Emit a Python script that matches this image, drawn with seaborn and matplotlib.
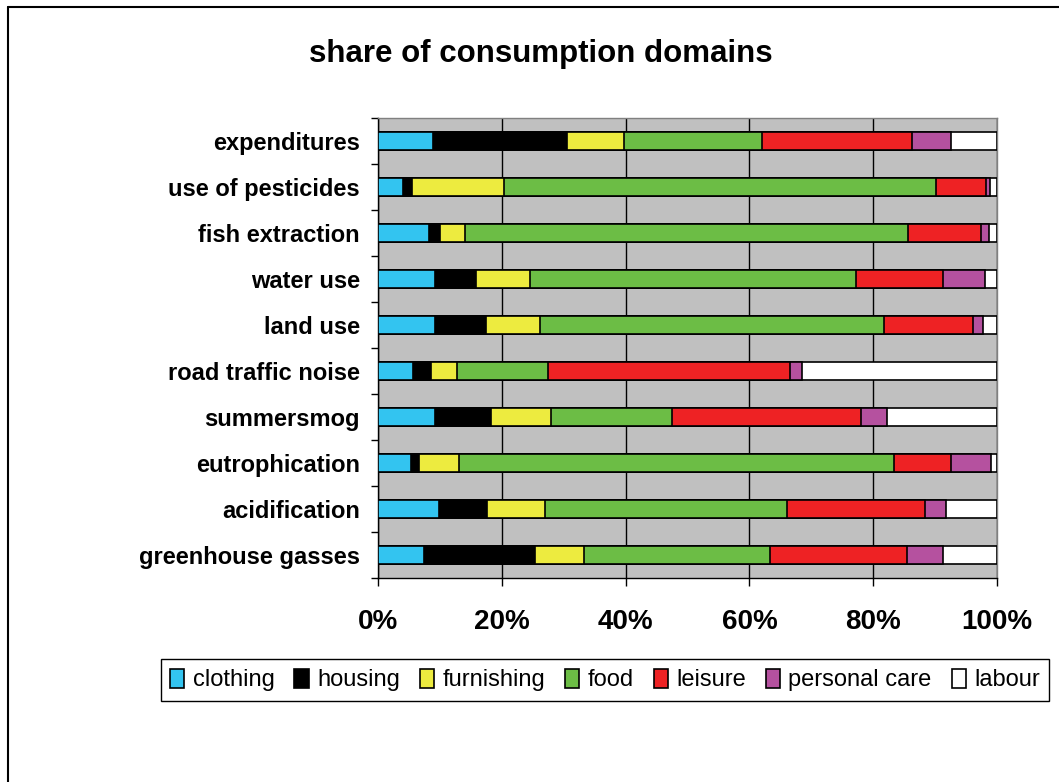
import numpy as np
import pandas as pd
import seaborn as sns
from matplotlib import pyplot as plt
from matplotlib.patches import Patch
from matplotlib.lines import Line2D
from matplotlib.ticker import PercentFormatter, FixedLocator

# shares (%), top row first
categories = ['expenditures', 'use of pesticides', 'fish extraction', 'water use', 'land use',
              'road traffic noise', 'summersmog', 'eutrophication', 'acidification', 'greenhouse gasses']
clothing = [8.9, 4.0, 8.3, 9.2, 9.2, 5.6, 9.2, 5.3, 9.8, 7.5]
housing = [21.6, 1.5, 1.7, 6.7, 8.3, 2.9, 9.0, 1.4, 7.8, 17.8]
furnishing = [9.2, 14.8, 4.1, 8.6, 8.6, 4.3, 9.8, 6.4, 9.3, 8.0]
food = [22.3, 69.9, 71.6, 52.7, 55.7, 14.6, 19.5, 70.3, 39.1, 30.0]
leisure = [24.3, 8.1, 11.7, 14.0, 14.3, 39.2, 30.5, 9.1, 22.3, 22.1]
personal_care = [6.2, 0.6, 1.3, 6.8, 1.6, 1.9, 4.2, 6.5, 3.5, 5.8]
labour = [7.5, 1.1, 1.3, 2.0, 2.3, 31.5, 17.8, 1.0, 8.2, 8.8]

domains = ['clothing', 'housing', 'furnishing', 'food', 'leisure', 'personal care', 'labour']
colours = ['#33C4F0', '#000000', '#EDEB3F', '#6CBD45', '#EE2224', '#B5519F', '#FFFFFF']

shares = pd.DataFrame({'clothing': clothing, 'housing': housing, 'furnishing': furnishing,
                       'food': food, 'leisure': leisure, 'personal care': personal_care,
                       'labour': labour}, index=categories)
# 100% stacked: cumulative share of each row
cum = shares.div(shares.sum(axis=1), axis=0).cumsum(axis=1) * 100

sns.set_style('white')
plt.rcParams['font.family'] = ['Liberation Sans', 'DejaVu Sans']
plt.rcParams['text.color'] = 'black'
plt.rcParams['xtick.color'] = 'black'
plt.rcParams['ytick.color'] = 'black'

fig = plt.figure(figsize=(10.59, 7.82), dpi=100)
ax = fig.add_axes([378 / 1059, 1 - 578 / 782, 619 / 1059, 460 / 782])
ax.set_facecolor('#C0C0C0')

# draw the widest layer first, then cover it with the shorter ones
for name, col in reversed(list(zip(domains, colours))):
    df = pd.DataFrame({'category': categories, 'value': cum[name].values})
    sns.barplot(data=df, x='value', y='category', orient='h', color=col, saturation=1,
                width=0.4, edgecolor='black', linewidth=1.2, errorbar=None, ax=ax, zorder=3)

ax.set_xlim(0, 100)
ax.set_ylim(len(categories) - 0.5, -0.5)
ax.set_xlabel('')
ax.set_ylabel('')
ax.set_xticks([0, 20, 40, 60, 80, 100])
ax.xaxis.set_major_formatter(PercentFormatter(decimals=0))
ax.xaxis.grid(True, color='black', linewidth=1)
ax.yaxis.grid(False)
ax.set_axisbelow(True)

ax.yaxis.set_minor_locator(FixedLocator(np.arange(-0.5, len(categories), 1)))
ax.tick_params(axis='y', which='major', length=0, pad=13, labelsize=17, labelcolor='black')
ax.tick_params(axis='y', which='minor', length=5, width=1, color='black', direction='out', left=True)
ax.tick_params(axis='x', which='major', length=6, width=1, color='black', direction='out',
               bottom=True, pad=16, labelsize=20, labelcolor='black')
for lab in ax.get_xticklabels() + ax.get_yticklabels():
    lab.set_fontweight('bold')

for side in ['left', 'bottom']:
    ax.spines[side].set_color('black')
    ax.spines[side].set_linewidth(1)
for side in ['top', 'right']:
    ax.spines[side].set_color('#808080')
    ax.spines[side].set_linewidth(1)

fig.text(541 / 1059, 1 - 54 / 782, 'share of consumption domains', ha='center', va='center',
         fontsize=22.5, fontweight='bold', color='black')

handles = [Patch(facecolor=c, edgecolor='black', linewidth=1.2) for c in colours]
leg = fig.legend(handles, domains, loc='center', bbox_to_anchor=(605 / 1059, 1 - 680 / 782),
                 ncol=7, fontsize=17, frameon=True, fancybox=False, framealpha=1,
                 edgecolor='black', handlelength=0.6, handleheight=0.9, handletextpad=0.35,
                 columnspacing=0.85, borderpad=0.4)
leg.get_frame().set_linewidth(1)
for t in leg.get_texts():
    t.set_color('black')

# outer chart border (left and top only are inside the image)
fig.add_artist(Line2D([8 / 1059, 8 / 1059], [0, 1 - 7 / 782], color='black', linewidth=1.5))
fig.add_artist(Line2D([8 / 1059, 1], [1 - 7 / 782, 1 - 7 / 782], color='black', linewidth=1.5))

fig.savefig('out.png', dpi=100)
